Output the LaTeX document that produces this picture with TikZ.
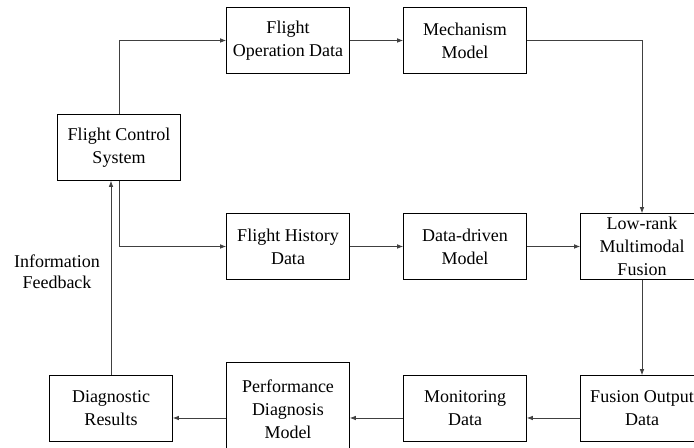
\documentclass[tikz,border=0pt]{standalone}
\usepackage{fontspec}
\setmainfont{Liberation Serif}
\usetikzlibrary{arrows.meta}

\begin{document}
\begin{tikzpicture}[x=0.75pt,y=-0.75pt,
   box/.style={draw,line width=0.6pt,minimum width=92.25pt,minimum height=49.5pt,
      align=center,inner sep=1pt,font=\fontsize{13.5}{17.25}\selectfont},
   arr/.style={draw=black!75,line width=0.6pt,-{Latex[length=4.5pt,width=3.5pt]}}]

   \useasboundingbox (0,0) rectangle (694,448);

   % left column
   \node[box] (fcs) at (119,147.5) {Flight Control\\System};
   \node[box] (diag) at (111,408) {Diagnostic\\Results};

   % upper rows
   \node[box] (fod) at (288,40.5) {Flight\\Operation Data};
   \node[box] (mech) at (465,40.5) {Mechanism\\Model};
   \node[box] (fhd) at (288,246.5) {Flight History\\Data};
   \node[box] (ddm) at (465,246.5) {Data-driven\\Model};
   \node[box] (lrf) at (642,246.5) {Low-rank\\Multimodal\\Fusion};

   % bottom row
   \node[box] (fout) at (642,408.5) {Fusion Output\\Data};
   \node[box] (mon) at (465,408.5) {Monitoring\\Data};
   \node[box,minimum height=70.5pt] (perf) at (288,409) {Performance\\Diagnosis\\Model};
   \coordinate (brow) at (0,418);

   \node[align=center,font=\fontsize{13.5}{16}\selectfont] (fb) at (57,272) {Information\\Feedback};

   \draw[arr] (fcs.north) |- (fod.west);
   \draw[arr] (fcs.south) |- (fhd.west);
   \draw[arr] (fod) -- (mech);
   \draw[arr] (mech.east) -| (lrf.north);
   \draw[arr] (fhd) -- (ddm);
   \draw[arr] (ddm) -- (lrf);
   \draw[arr] (lrf) -- (fout);
   \draw[arr] (fout.west |- brow) -- (mon.east |- brow);
   \draw[arr] (mon.west |- brow) -- (perf.east |- brow);
   \draw[arr] (perf.west |- brow) -- (diag.east |- brow);
   \draw[arr] (diag.north) -- (diag.north |- fcs.south);

\end{tikzpicture}
\end{document}
